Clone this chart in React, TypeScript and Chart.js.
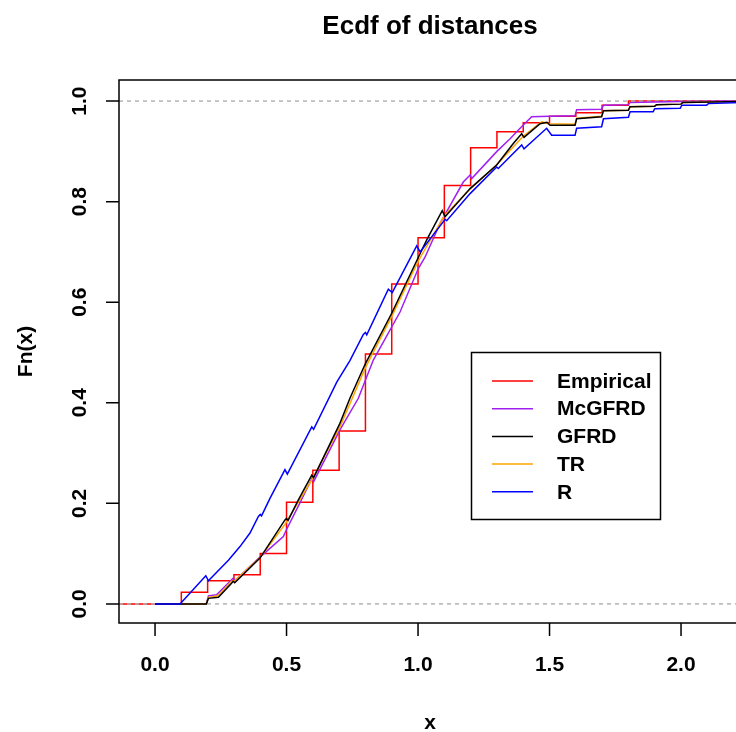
import React, { useEffect, useRef } from "react";
import { Chart, registerables } from "chart.js";

Chart.register(...registerables);

const FONT = '"Liberation Sans", Arial, Helvetica, sans-serif';

const TITLE = "Ecdf of distances";
const X_LABEL = "x";
const Y_LABEL = "Fn(x)";
const X_TICKS = [0, 0.5, 1, 1.5, 2];
const X_TICK_LABELS = ["0.0", "0.5", "1.0", "1.5", "2.0"];
const Y_TICKS = [0, 0.2, 0.4, 0.6, 0.8, 1];
const Y_TICK_LABELS = ["0.0", "0.2", "0.4", "0.6", "0.8", "1.0"];
const X_MIN = -0.137;
const X_MAX = 2.228;
const Y_MIN = -0.04;
const Y_MAX = 1.04;

const LABELS = ["Empirical", "McGFRD", "GFRD", "TR", "R"];
const COLORS = ["#FF0000", "#A020F0", "#000000", "#FFA500", "#0000FF"];

// Empirical ECDF (step function)
const empX = [-0.137, 0.1, 0.2, 0.3, 0.4, 0.5, 0.6, 0.7, 0.8, 0.9, 1.0, 1.1, 1.2, 1.3, 1.4, 1.5, 1.6, 1.7, 1.8, 2.228];
const empY = [0, 0.023, 0.046, 0.058, 0.1, 0.202, 0.266, 0.344, 0.497, 0.636, 0.728, 0.832, 0.907, 0.939, 0.957, 0.97, 0.977, 0.992, 1.0, 1.0];

// McGFRD
const mcX = [0, 0.195, 0.203, 0.234, 0.291, 0.297, 0.303, 0.399, 0.488, 0.5, 0.55, 0.597, 0.603, 0.703, 0.773, 0.83, 0.932, 1.001, 1.027, 1.084, 1.172, 1.198, 1.204, 1.3, 1.35, 1.388, 1.432, 1.5, 1.597, 1.603, 1.698, 1.705, 1.8, 1.806, 1.9, 2.0, 2.228];
const mcY = [0, 0, 0.016, 0.018, 0.048, 0.051, 0.046, 0.093, 0.134, 0.148, 0.2, 0.25, 0.243, 0.346, 0.409, 0.485, 0.581, 0.667, 0.69, 0.757, 0.839, 0.853, 0.846, 0.9, 0.925, 0.946, 0.969, 0.97, 0.971, 0.983, 0.984, 0.992, 0.993, 0.997, 0.998, 0.999, 1.0];

// GFRD
const gfX = [0, 0.195, 0.203, 0.241, 0.291, 0.297, 0.303, 0.399, 0.494, 0.5, 0.506, 0.545, 0.596, 0.603, 0.703, 0.741, 0.8, 0.9, 1.0, 1.033, 1.092, 1.103, 1.198, 1.299, 1.363, 1.394, 1.403, 1.464, 1.49, 1.502, 1.597, 1.603, 1.698, 1.705, 1.8, 1.806, 1.9, 1.907, 2.0, 2.006, 2.228];
const gfY = [0, 0, 0.011, 0.013, 0.041, 0.045, 0.042, 0.091, 0.167, 0.17, 0.166, 0.207, 0.256, 0.251, 0.359, 0.409, 0.478, 0.578, 0.688, 0.724, 0.782, 0.77, 0.826, 0.873, 0.916, 0.935, 0.928, 0.955, 0.958, 0.952, 0.952, 0.965, 0.969, 0.981, 0.982, 0.989, 0.99, 0.993, 0.994, 0.997, 0.999];

// TR
const trX = [0, 0.195, 0.203, 0.24, 0.291, 0.303, 0.399, 0.494, 0.6, 0.703, 0.8, 0.9, 1.0, 1.1, 1.2, 1.3, 1.4, 1.47, 1.5, 1.597, 1.603, 1.698, 1.705, 1.8, 1.806, 1.9, 1.907, 2.0, 2.006, 2.228];
const trY = [0, 0, 0.013, 0.016, 0.045, 0.046, 0.092, 0.158, 0.25, 0.352, 0.47, 0.572, 0.681, 0.772, 0.826, 0.874, 0.93, 0.959, 0.955, 0.954, 0.966, 0.97, 0.981, 0.982, 0.989, 0.99, 0.993, 0.994, 0.997, 0.999];

// R
const rX = [0, 0.095, 0.193, 0.203, 0.279, 0.323, 0.361, 0.393, 0.4, 0.405, 0.437, 0.494, 0.503, 0.596, 0.603, 0.691, 0.741, 0.792, 0.8, 0.805, 0.887, 0.902, 0.995, 1.008, 1.103, 1.109, 1.198, 1.299, 1.305, 1.394, 1.403, 1.489, 1.508, 1.597, 1.603, 1.698, 1.705, 1.8, 1.806, 1.894, 1.9, 1.997, 2.003, 2.097, 2.104, 2.228];
const rY = [0, 0, 0.056, 0.046, 0.087, 0.114, 0.141, 0.174, 0.178, 0.175, 0.21, 0.267, 0.258, 0.352, 0.347, 0.441, 0.484, 0.536, 0.54, 0.535, 0.626, 0.619, 0.712, 0.7, 0.765, 0.762, 0.816, 0.869, 0.866, 0.913, 0.905, 0.946, 0.932, 0.932, 0.946, 0.949, 0.965, 0.968, 0.979, 0.979, 0.985, 0.986, 0.992, 0.992, 0.995, 0.997];

const SERIES_X = [empX, mcX, gfX, trX, rX];
const SERIES_Y = [empY, mcY, gfY, trY, rY];
const DRAW_ORDER = [5, 4, 2, 3, 1]; // lower = on top

const framePlugin = {
  id: "rframe",
  afterDatasetDraw(chart: any, args: any) {
    if (args.index !== 0) return;
    const { ctx, chartArea } = chart;
    const ys = chart.scales.y;
    ctx.save();
    ctx.strokeStyle = "#B3B3B3";
    ctx.lineWidth = 1.5;
    ctx.setLineDash([4, 4]);
    [0, 1].forEach((v) => {
      const py = ys.getPixelForValue(v);
      ctx.beginPath();
      ctx.moveTo(chartArea.left, py);
      ctx.lineTo(chartArea.right, py);
      ctx.stroke();
    });
    ctx.restore();
  },
  afterDraw(chart: any) {
    const { ctx, chartArea } = chart;
    const xs = chart.scales.x;
    const ys = chart.scales.y;
    const L = chartArea.left, R = chartArea.right, T = chartArea.top - 1, B = chartArea.bottom - 1;
    ctx.save();
    ctx.strokeStyle = "#000";
    ctx.lineWidth = 1.5;
    ctx.setLineDash([]);
    ctx.strokeRect(L, T, R - L, B - T);
    // ticks
    ctx.beginPath();
    X_TICKS.forEach((v) => {
      const px = xs.getPixelForValue(v);
      ctx.moveTo(px, B);
      ctx.lineTo(px, B + 13);
    });
    Y_TICKS.forEach((v) => {
      const py = ys.getPixelForValue(v);
      ctx.moveTo(L, py);
      ctx.lineTo(L - 13, py);
    });
    ctx.stroke();
    ctx.fillStyle = "#000";
    ctx.font = `bold 21px ${FONT}`;
    ctx.textAlign = "center";
    ctx.textBaseline = "middle";
    X_TICKS.forEach((v, i) => {
      ctx.fillText(X_TICK_LABELS[i], xs.getPixelForValue(v), 665);
    });
    Y_TICKS.forEach((v, i) => {
      ctx.save();
      ctx.translate(80, ys.getPixelForValue(v));
      ctx.rotate(-Math.PI / 2);
      ctx.fillText(Y_TICK_LABELS[i], 0, 0);
      ctx.restore();
    });
    const cx = (L + R) / 2;
    ctx.fillText(X_LABEL, cx, 723);
    ctx.save();
    ctx.translate(26, (T + B) / 2);
    ctx.rotate(-Math.PI / 2);
    ctx.fillText(Y_LABEL, 0, 0);
    ctx.restore();
    ctx.font = `bold 26px ${FONT}`;
    ctx.fillText(TITLE, cx, 27);

    // legend
    const bx = 471.5, by = 352.5, bw = 189, bh = 167;
    ctx.fillStyle = "#fff";
    ctx.fillRect(bx, by, bw, bh);
    ctx.strokeStyle = "#000";
    ctx.lineWidth = 1.5;
    ctx.strokeRect(bx, by, bw, bh);
    ctx.font = `bold 21px ${FONT}`;
    ctx.textAlign = "left";
    LABELS.forEach((lab, i) => {
      const yy = 381 + i * 27.7;
      ctx.strokeStyle = COLORS[i];
      ctx.beginPath();
      ctx.moveTo(492, yy);
      ctx.lineTo(533, yy);
      ctx.stroke();
      ctx.fillStyle = "#000";
      ctx.fillText(lab, 557, yy + 1);
    });
    ctx.restore();
  },
};

export default function App() {
  const ref = useRef<HTMLCanvasElement>(null);
  useEffect(() => {
    const canvas = ref.current!;
    const datasets = LABELS.map((lab, i) => ({
      label: lab,
      data: SERIES_X[i].map((x, j) => ({ x, y: SERIES_Y[i][j] })),
      borderColor: COLORS[i],
      backgroundColor: COLORS[i],
      borderWidth: 1.5,
      pointRadius: 0,
      tension: 0,
      fill: false,
      stepped: i === 0 ? "before" : false,
      order: DRAW_ORDER[i],
    }));
    const chart = new Chart(canvas, {
      type: "line",
      data: { datasets } as any,
      options: {
        responsive: false,
        animation: false,
        devicePixelRatio: 1,
        events: [],
        layout: { padding: { left: 119, top: 81, right: 9, bottom: 108 } },
        scales: {
          x: { type: "linear", min: X_MIN, max: X_MAX, display: false },
          y: { type: "linear", min: Y_MIN, max: Y_MAX, display: false },
        },
        plugins: {
          legend: { display: false },
          title: { display: false },
          tooltip: { enabled: false },
        },
      } as any,
      plugins: [framePlugin],
    });
    return () => chart.destroy();
  }, []);
  return (
    <div style={{ position: "absolute", left: 0, top: 0, width: 736, height: 732, overflow: "hidden", background: "#fff" }}>
      <canvas ref={ref} width={750} height={732} style={{ width: 750, height: 732, display: "block" }} />
    </div>
  );
}
